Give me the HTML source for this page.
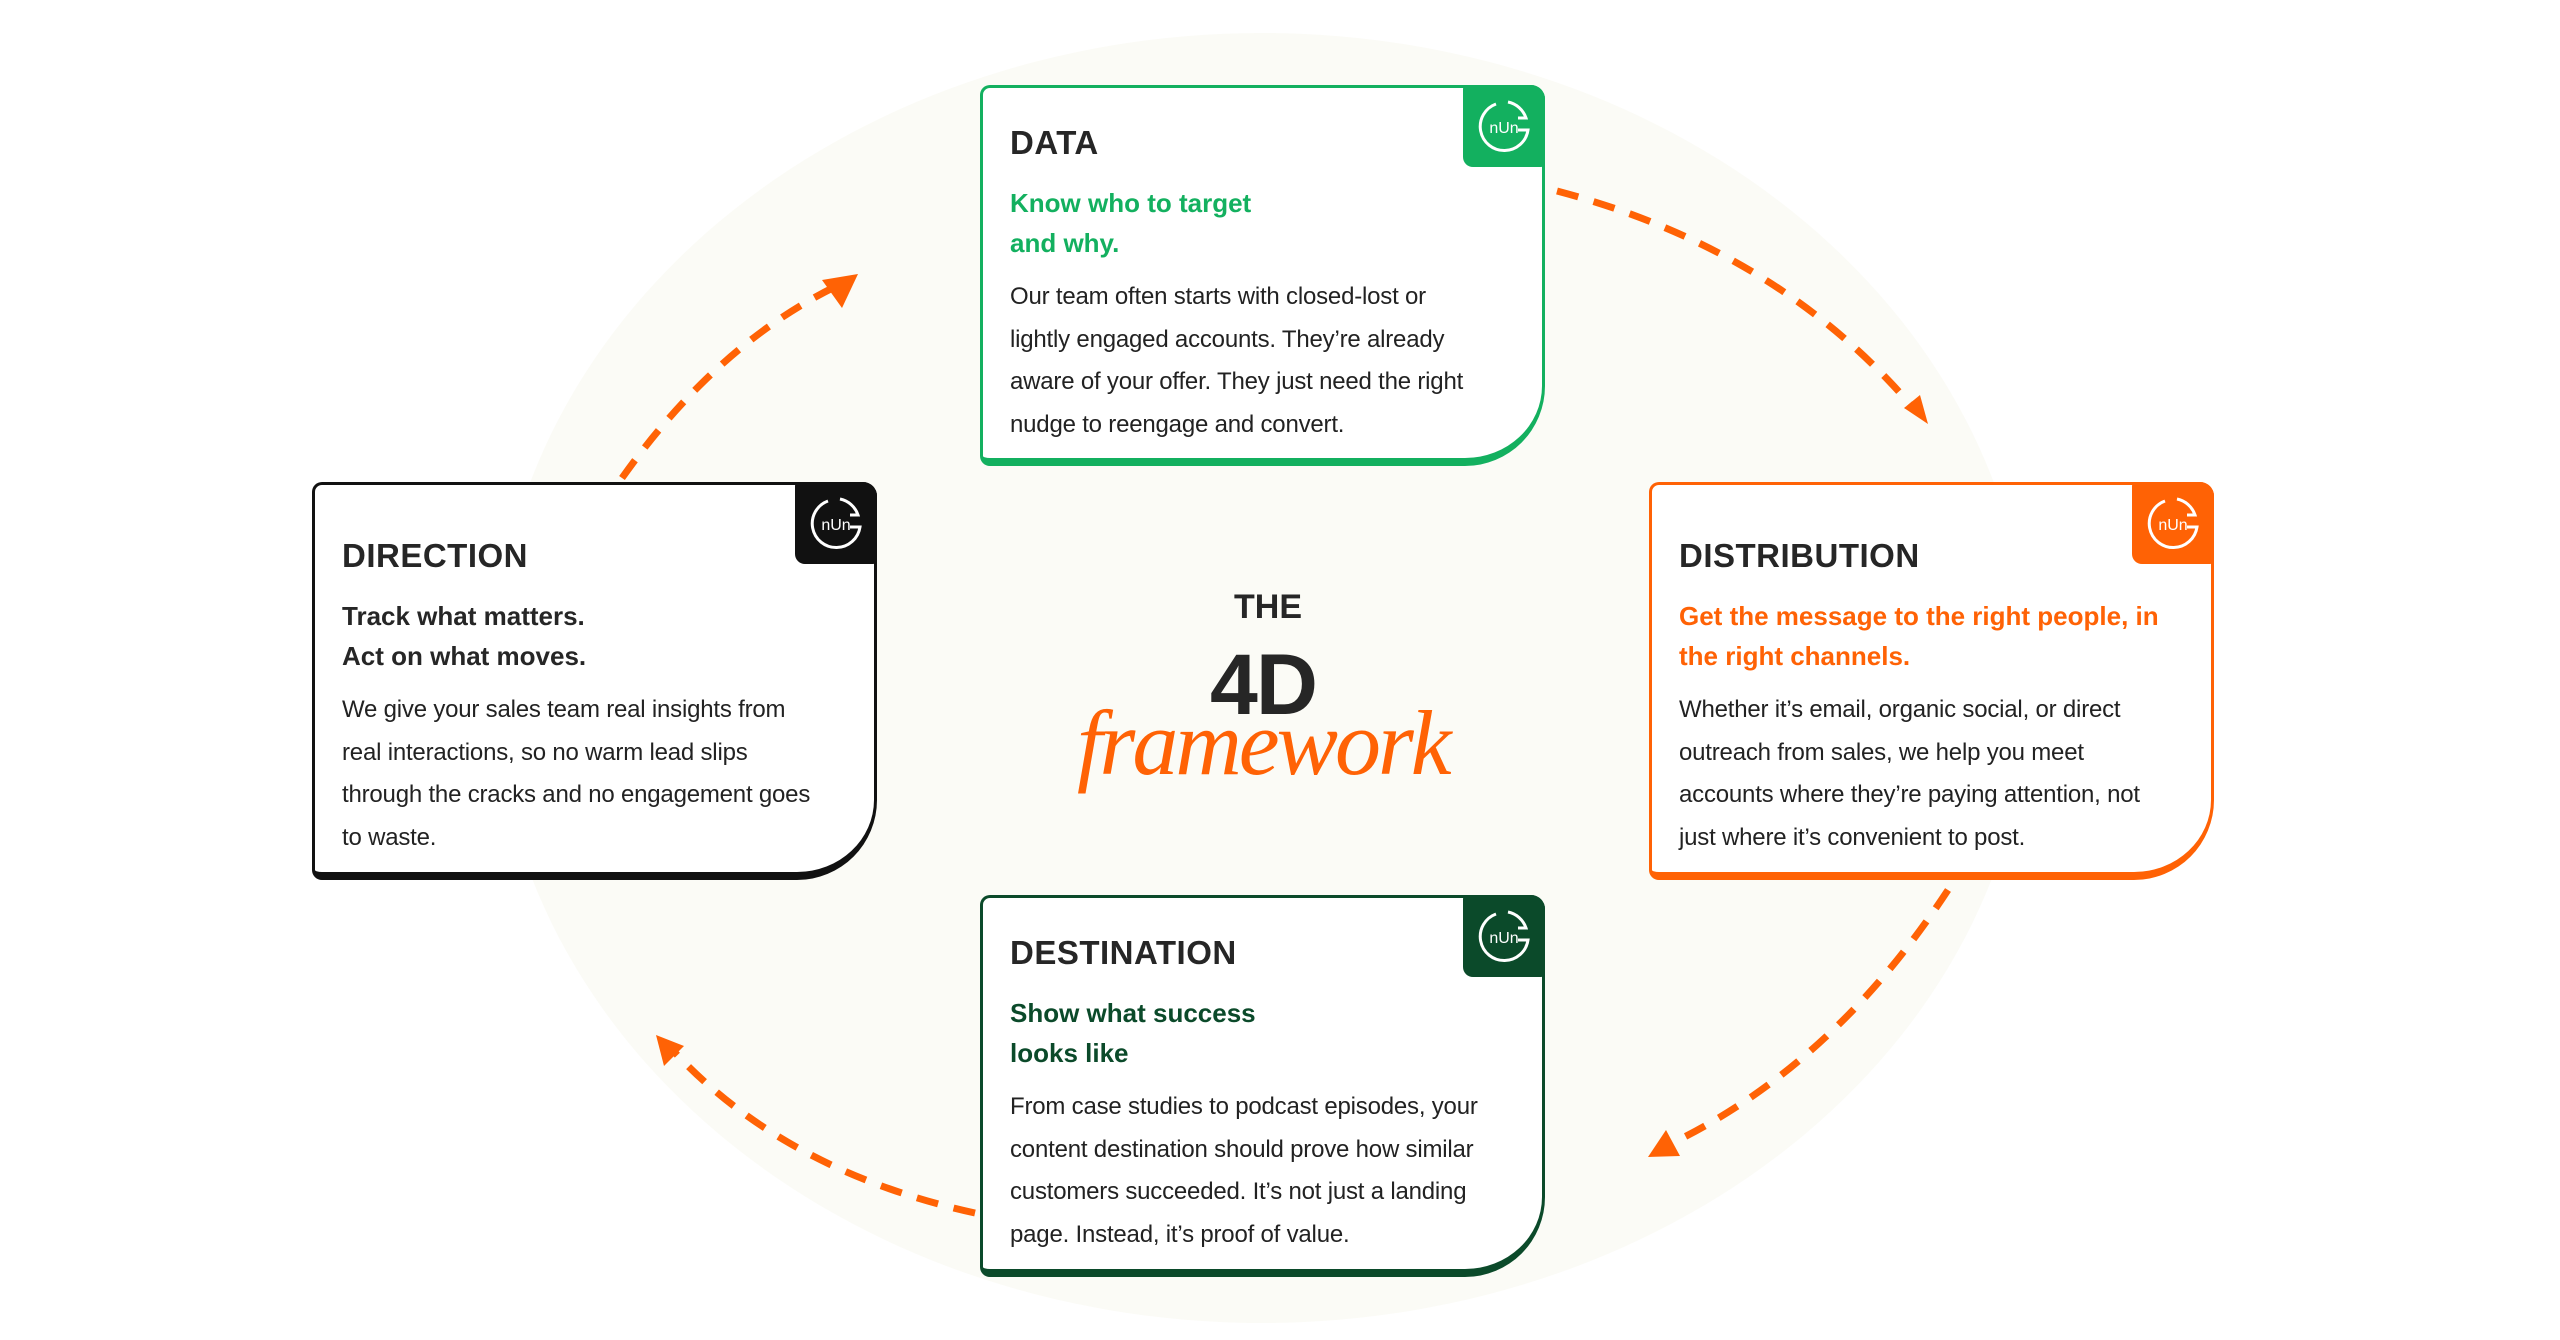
<!DOCTYPE html>
<html><head><meta charset="utf-8"><style>
body{margin:0;width:2560px;height:1340px;background:#fff;position:relative;overflow:hidden;font-family:"Liberation Sans",sans-serif}
.ell{position:absolute;left:494px;top:33px;width:1536px;height:1290px;border-radius:50%;background:#fbfbf6}
.card{position:absolute;width:565px;height:381px;background:#fff;border:3px solid;border-bottom-width:8px;border-radius:10px 14px 80px 10px;box-sizing:border-box}
.icon{position:absolute;right:-3px;top:-3px;width:82px;height:82px;border-radius:4px 14px 4px 10px}
.icon svg{position:absolute;left:11px;top:11px}
.t{position:absolute;left:27px;top:36px;font-weight:bold;font-size:33px;color:#262626;letter-spacing:.5px}
.s{position:absolute;left:27px;top:95px;font-weight:bold;font-size:26px;line-height:40px;white-space:nowrap}
.b{position:absolute;left:27px;top:188px;font-size:24px;line-height:42.5px;color:#222;white-space:nowrap;letter-spacing:-.2px}
.side .t{top:52px}.side .s{top:111px}.side .b{top:204px}
</style></head><body>
<div class="ell"></div>
<svg width="2560" height="1340" style="position:absolute;left:0;top:0">
<g fill="none" stroke="#ff6205" stroke-width="7" stroke-dasharray="22 16">
<path d="M622,478 Q720,340 845,282"/>
<path d="M1557,191 Q1780,250 1915,410"/>
<path d="M1948,890 Q1830,1070 1662,1148"/>
<path d="M975,1213 Q780,1170 668,1045"/>
</g>
<g fill="#ff6205">
<path d="M858,274 L822,280 L842,308 Z"/>
<path d="M1928,424 L1904,408 L1920,395 Z"/>
<path d="M1648,1157 L1666,1130 L1680,1156 Z"/>
<path d="M656,1035 L684,1046 L664,1066 Z"/>
</g>
</svg>

<div style="position:absolute;left:1234px;top:588px;font-weight:bold;font-size:34px;color:#262626">THE</div>
<div style="position:absolute;left:1210px;top:636px;font-weight:bold;font-size:86px;color:#262626;letter-spacing:-2px">4D</div>
<div style="position:absolute;left:1077px;top:690px;font-family:'Liberation Serif',serif;font-style:italic;font-size:92px;color:#ff6205;letter-spacing:-3px">framework</div>

<div class="card" style="left:980px;top:85px;border-color:#13b05f">
<div class="icon" style="background:#13b05f"><svg width="60" height="60" viewBox="0 0 60 60" fill="none" stroke="#fff" stroke-width="3"><path d="M22,8 A24,24 0 1 0 54,34 L44,34"/><path d="M34,6 A24,24 0 0 1 52,22 L44,22"/><text x="30" y="37" font-size="16" fill="#fff" stroke="none" text-anchor="middle" font-family="Liberation Sans">nUn</text></svg></div>
<div class="t">DATA</div>
<div class="s" style="color:#13b05f">Know who to target<br>and why.</div>
<div class="b">Our team often starts with closed-lost or<br>lightly engaged accounts. They’re already<br>aware of your offer. They just need the right<br>nudge to reengage and convert.</div>
</div>

<div class="card side" style="left:312px;top:482px;border-color:#111;height:398px">
<div class="icon" style="background:#111"><svg width="60" height="60" viewBox="0 0 60 60" fill="none" stroke="#fff" stroke-width="3"><path d="M22,8 A24,24 0 1 0 54,34 L44,34"/><path d="M34,6 A24,24 0 0 1 52,22 L44,22"/><text x="30" y="37" font-size="16" fill="#fff" stroke="none" text-anchor="middle" font-family="Liberation Sans">nUn</text></svg></div>
<div class="t">DIRECTION</div>
<div class="s" style="color:#262626">Track what matters.<br>Act on what moves.</div>
<div class="b">We give your sales team real insights from<br>real interactions, so no warm lead slips<br>through the cracks and no engagement goes<br>to waste.</div>
</div>

<div class="card side" style="left:1649px;top:482px;border-color:#ff6205;height:398px">
<div class="icon" style="background:#ff6205"><svg width="60" height="60" viewBox="0 0 60 60" fill="none" stroke="#fff" stroke-width="3"><path d="M22,8 A24,24 0 1 0 54,34 L44,34"/><path d="M34,6 A24,24 0 0 1 52,22 L44,22"/><text x="30" y="37" font-size="16" fill="#fff" stroke="none" text-anchor="middle" font-family="Liberation Sans">nUn</text></svg></div>
<div class="t">DISTRIBUTION</div>
<div class="s" style="color:#ff6205">Get the message to the right people, in<br>the right channels.</div>
<div class="b">Whether it’s email, organic social, or direct<br>outreach from sales, we help you meet<br>accounts where they’re paying attention, not<br>just where it’s convenient to post.</div>
</div>

<div class="card" style="left:980px;top:895px;border-color:#0b4a2a;height:382px">
<div class="icon" style="background:#0b4a2a"><svg width="60" height="60" viewBox="0 0 60 60" fill="none" stroke="#fff" stroke-width="3"><path d="M22,8 A24,24 0 1 0 54,34 L44,34"/><path d="M34,6 A24,24 0 0 1 52,22 L44,22"/><text x="30" y="37" font-size="16" fill="#fff" stroke="none" text-anchor="middle" font-family="Liberation Sans">nUn</text></svg></div>
<div class="t">DESTINATION</div>
<div class="s" style="color:#0b4a2a">Show what success<br>looks like</div>
<div class="b">From case studies to podcast episodes, your<br>content destination should prove how similar<br>customers succeeded. It’s not just a landing<br>page. Instead, it’s proof of value.</div>
</div>
</body></html>
